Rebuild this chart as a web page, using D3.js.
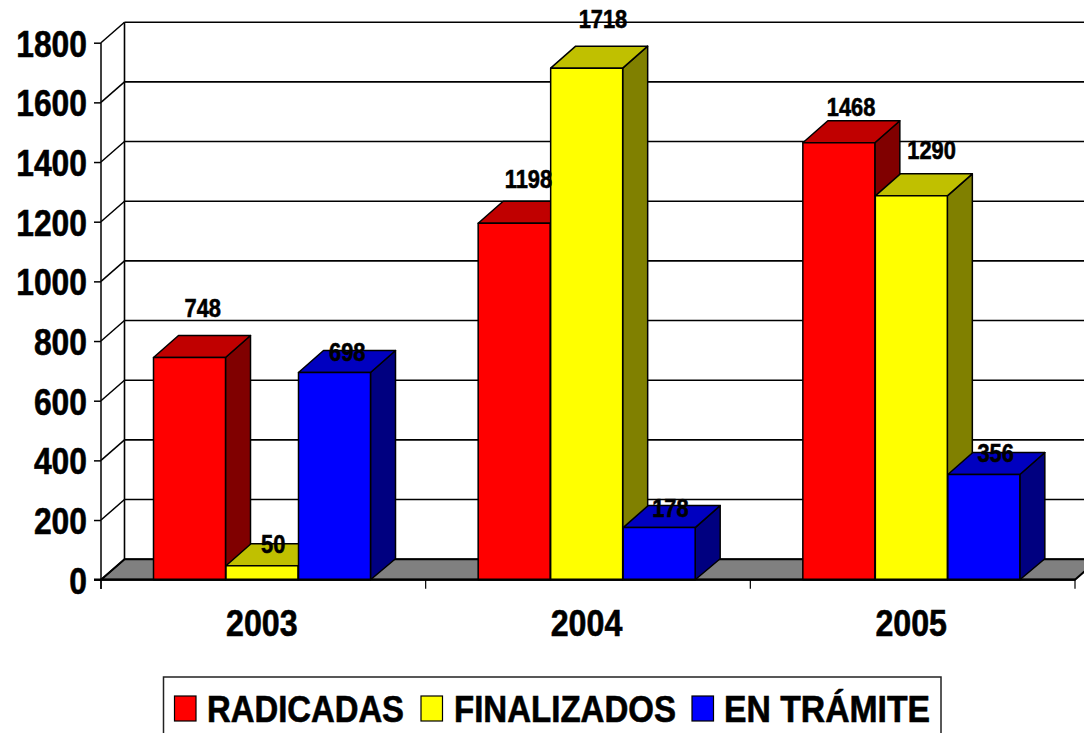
<!DOCTYPE html>
<html>
<head>
<meta charset="utf-8">
<script src="https://d3js.org/d3.v7.min.js"></script>
<style>
html, body { margin: 0; padding: 0; background: #fff; overflow: hidden; }
text { font-family: "Liberation Sans", Arial, sans-serif; font-weight: bold; fill: #000; stroke: #000; stroke-width: 0.6px; }
</style>
</head>
<body>
<svg id="chart" width="1084" height="733"></svg>
<script>
var years = ["2003", "2004", "2005"];
var series = ["RADICADAS", "FINALIZADOS", "EN TRÁMITE"];
var radicadas = [748, 1198, 1468];
var finalizados = [50, 1718, 1290];
var enTramite = [698, 178, 356];
var yTicks = [0, 200, 400, 600, 800, 1000, 1200, 1400, 1600, 1800];

var values = [radicadas, finalizados, enTramite];
var front = ["#ff0000", "#ffff00", "#0000ff"];
var top3d = ["#c00000", "#c0c000", "#0000c0"];
var side = ["#800000", "#808000", "#000080"];

// label nudges from the centre / top of each bar, the original places them by hand
var labelDx = [[13, 14, 12], [11, 16, 20], [12.5, 11, 11.5]];
var labelDy = [[-40, -34, -26], [-12, -39, -36], [-10, -10, -11]];

var depthX = 23.5, depthY = 20.5;
var barDepthX = 25, barDepthY = 21;
var barTopDrop = 1;

var svg = d3.select("#chart");

var x = d3.scaleBand().domain(years).range([101, 1075]);
var inner = d3.scaleBand().domain(d3.range(3)).range([52.5, 270]);
var y = d3.scaleLinear().domain([0, 1800]).range([579.7, 42.7]);

// floor
svg.append("polygon")
  .attr("points", [[101, y(0)], [101 + depthX, y(0) - depthY], [1075 + depthX, y(0) - depthY], [1075, y(0)]].join(" "))
  .attr("fill", "#808080")
  .attr("stroke", "#000")
  .attr("stroke-width", 2);

// back wall grid
svg.selectAll(".grid")
  .data(yTicks)
  .enter()
  .append("line")
  .attr("x1", 101 + depthX)
  .attr("x2", 1084)
  .attr("y1", function(d) { return y(d) - depthY; })
  .attr("y2", function(d) { return y(d) - depthY; })
  .attr("stroke", "#000")
  .attr("stroke-width", 1.6);

svg.selectAll(".wall")
  .data(yTicks)
  .enter()
  .append("line")
  .attr("x1", 101)
  .attr("x2", 101 + depthX)
  .attr("y1", function(d) { return y(d); })
  .attr("y2", function(d) { return y(d) - depthY; })
  .attr("stroke", "#000")
  .attr("stroke-width", 1.5);

svg.append("line")
  .attr("x1", 101 + depthX).attr("x2", 101 + depthX)
  .attr("y1", y(1800) - depthY).attr("y2", y(0) - depthY)
  .attr("stroke", "#000").attr("stroke-width", 1.6);

// bars, left to right so the later ones cover the earlier sides
years.forEach(function(year, yi) {
  values.forEach(function(vals, si) {
    var x0 = x(year) + inner(si);
    var x1 = x0 + inner.bandwidth() - 0.5;
    var yt = y(vals[yi]) + barTopDrop;
    var yb = y(0);
    var back = yt - barDepthY - barTopDrop;
    var g = svg.append("g").attr("stroke", "#000").attr("stroke-width", 1.5).attr("stroke-linejoin", "round");
    g.append("polygon")
      .attr("points", [[x1, yt], [x1 + barDepthX, back], [x1 + barDepthX, yb - barDepthY], [x1, yb]].join(" "))
      .attr("fill", side[si]);
    g.append("polygon")
      .attr("points", [[x0, yt], [x0 + barDepthX, back], [x1 + barDepthX, back], [x1, yt]].join(" "))
      .attr("fill", top3d[si]);
    g.append("rect")
      .attr("x", x0)
      .attr("y", yt)
      .attr("width", x1 - x0)
      .attr("height", yb - yt)
      .attr("fill", front[si]);
  });
});

// axes
var yAxis = svg.append("g")
  .attr("transform", "translate(101,0)")
  .call(d3.axisLeft(y).tickValues(yTicks).tickSize(7).tickFormat(d3.format("d")));
yAxis.select(".domain").attr("d", "M0," + y(1800) + "V589").attr("stroke", "#000").attr("stroke-width", 1.5);
yAxis.selectAll(".tick line").attr("stroke", "#000").attr("stroke-width", 1.5);
yAxis.selectAll("text")
  .attr("x", 0)
  .attr("dy", 0)
  .attr("text-anchor", "end")
  .attr("transform", "translate(-14,13.5) scale(0.86,1)")
  .style("font-size", "37px");

var xAxis = svg.append("g")
  .attr("transform", "translate(0," + y(0) + ")")
  .call(d3.axisBottom(x).tickSize(0).tickPadding(0));
xAxis.select(".domain").attr("d", "M94,0H1075").attr("stroke", "#000").attr("stroke-width", 2.2);
xAxis.selectAll("text")
  .attr("y", 0)
  .attr("dy", 0)
  .attr("text-anchor", "middle")
  .attr("transform", "translate(0,56) scale(0.87,1)")
  .style("font-size", "37px");
// the labels sit a little left of the band centre in the original
xAxis.selectAll(".tick").each(function(d) {
  d3.select(this).attr("transform", "translate(" + (x(d) + x.bandwidth() / 2 - 1.5) + ",0)");
});

svg.selectAll(".xtick")
  .data(d3.range(4))
  .enter()
  .append("line")
  .attr("x1", function(d) { return 101 + d * x.step(); })
  .attr("x2", function(d) { return 101 + d * x.step(); })
  .attr("y1", y(0))
  .attr("y2", y(0) + 9)
  .attr("stroke", "#000")
  .attr("stroke-width", 1.2);

// value labels
years.forEach(function(year, yi) {
  values.forEach(function(vals, si) {
    var cx = x(year) + inner(si) + inner.bandwidth() / 2 + labelDx[si][yi];
    var cy = y(vals[yi]) + labelDy[si][yi];
    svg.append("text")
      .attr("text-anchor", "middle")
      .attr("transform", "translate(" + cx + "," + cy + ") scale(0.84,1)")
      .style("font-size", "26px")
      .text(vals[yi]);
  });
});

// legend
svg.append("rect")
  .attr("x", 163.5)
  .attr("y", 677)
  .attr("width", 777.5)
  .attr("height", 70)
  .attr("fill", "#fff")
  .attr("stroke", "#222")
  .attr("stroke-width", 1.5);

var legendX = [174.5, 421, 692];
var legendText = [207, 454, 724];
var legendWidth = [197, 222, 206];

series.forEach(function(name, i) {
  svg.append("rect")
    .attr("x", legendX[i])
    .attr("y", 696)
    .attr("width", 21.5)
    .attr("height", 25)
    .attr("fill", front[i])
    .attr("stroke", "#000")
    .attr("stroke-width", 1.2);
  svg.append("text")
    .attr("x", legendText[i])
    .attr("y", 722)
    .attr("textLength", legendWidth[i])
    .attr("lengthAdjust", "spacingAndGlyphs")
    .style("font-size", "37px")
    .text(name);
});
</script>
</body>
</html>
